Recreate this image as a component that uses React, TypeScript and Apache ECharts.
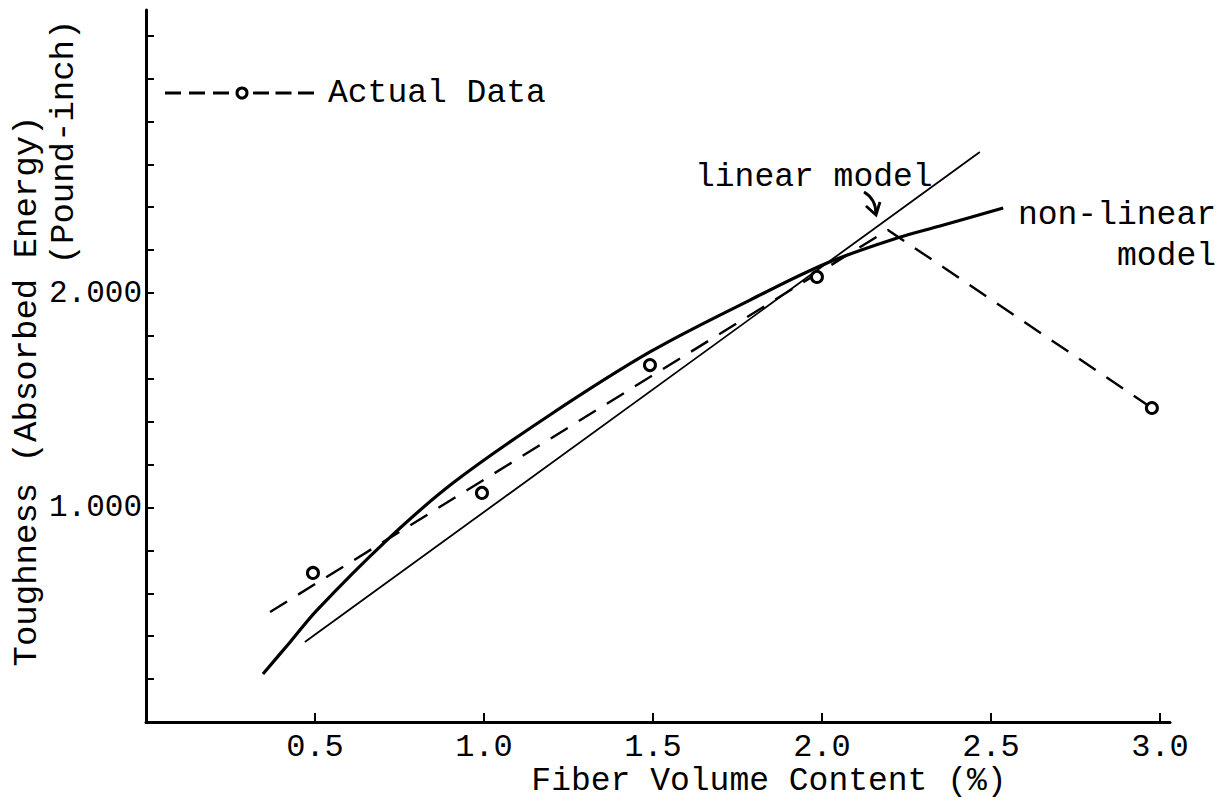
import React, { useEffect, useRef } from "react";
import * as echarts from "echarts";

// Fiber volume content (%) and toughness (pound-inch)
const nonLinearX = [0.346, 0.426, 0.506, 0.713, 0.908, 1.186, 1.491, 1.787, 2.015, 2.222, 2.349, 2.536];
const nonLinearY = [224, 372, 522, 848, 1114, 1422, 1725, 1967, 2140, 2256, 2312, 2396];

const linearX = [0.47, 2.467];
const linearY = [373, 2657];

const actualLineX = [0.367, 2.195, 2.976];
const actualLineY = [513, 2294, 1464];

const actualX = [0.494, 0.994, 1.491, 1.985, 2.976];
const actualY = [695, 1068, 1664, 2075, 1464];

const xTicks = [0, 0.5, 1.0, 1.5, 2.0, 2.5, 3.0];
const yLabelMap: Record<number, string> = { 1000: "1.000", 2000: "2.000" };

const FONT = '"Liberation Mono", "DejaVu Sans Mono", monospace';

export default function App() {
  const ref = useRef<HTMLDivElement>(null);
  useEffect(() => {
    document.body.style.margin = "0";
    const chart = echarts.init(ref.current!, undefined, { renderer: "svg" });
    const zip = (xs: number[], ys: number[]) => xs.map((x, i) => [x, ys[i]]);
    const xPerUnit = 338;
    const yPerUnit = 0.2145;
    const mainLeft = 146;
    const mainBottomPx = 722;
    const xMax = xTicks[xTicks.length - 1];
    const yMax = 3200;
    const mainWidth = xMax * xPerUnit;
    const mainHeight = yMax * yPerUnit;
    const option: any = {
      animation: false,
      backgroundColor: "#ffffff",
      grid: [
        { left: mainLeft, top: mainBottomPx - mainHeight, width: mainWidth, height: mainHeight },
        { left: mainLeft, top: 10, width: 1170 - mainLeft, height: mainBottomPx - 10 },
      ],
      xAxis: [
        {
          type: "value",
          gridIndex: 0,
          min: 0,
          max: xMax,
          interval: 0.5,
          axisLine: { show: false },
          axisTick: { show: true, inside: true, length: 9, lineStyle: { color: "#000", width: 2 } },
          splitLine: { show: false },
          axisLabel: {
            show: true,
            margin: 9,
            fontSize: 32,
            fontFamily: FONT,
            color: "#000",
            formatter: (v: number) => (v === 0 ? "" : v.toFixed(1)),
          },
        },
        {
          type: "value",
          gridIndex: 1,
          min: 0,
          max: 1,
          axisLine: { show: true, onZero: false, lineStyle: { color: "#000", width: 3 } },
          axisTick: { show: false },
          axisLabel: { show: false },
          splitLine: { show: false },
        },
      ],
      yAxis: [
        {
          type: "value",
          gridIndex: 0,
          min: 0,
          max: yMax,
          interval: 200,
          axisLine: { show: false },
          axisTick: { show: true, inside: true, length: 8, lineStyle: { color: "#000", width: 2 } },
          splitLine: { show: false },
          axisLabel: {
            show: true,
            margin: 4,
            fontSize: 31,
            fontFamily: FONT,
            color: "#000",
            formatter: (v: number) => yLabelMap[v] || "",
          },
        },
        {
          type: "value",
          gridIndex: 1,
          min: 0,
          max: 1,
          axisLine: { show: true, onZero: false, lineStyle: { color: "#000", width: 3 } },
          axisTick: { show: false },
          axisLabel: { show: false },
          splitLine: { show: false },
        },
      ],
      series: [
        {
          name: "non-linear model",
          type: "line",
          xAxisIndex: 0,
          yAxisIndex: 0,
          data: zip(nonLinearX, nonLinearY),
          smooth: 0.35,
          showSymbol: false,
          symbol: "none",
          lineStyle: { color: "#000", width: 3.2 },
          z: 3,
        },
        {
          name: "linear model",
          type: "line",
          xAxisIndex: 0,
          yAxisIndex: 0,
          data: zip(linearX, linearY),
          showSymbol: false,
          symbol: "none",
          lineStyle: { color: "#000", width: 1.8 },
          z: 3,
        },
        {
          name: "Actual Data line",
          type: "line",
          xAxisIndex: 0,
          yAxisIndex: 0,
          data: zip(actualLineX, actualLineY),
          showSymbol: false,
          symbol: "none",
          lineStyle: { color: "#000", width: 2.4, type: [20, 13] },
          z: 3,
        },
        {
          name: "Actual Data",
          type: "scatter",
          xAxisIndex: 0,
          yAxisIndex: 0,
          data: zip(actualX, actualY),
          symbol: "circle",
          symbolSize: 11,
          itemStyle: { color: "#fff", borderColor: "#000", borderWidth: 3, opacity: 1 },
          z: 5,
        },
      ],
      graphic: [
        {
          type: "line",
          shape: { x1: 165, y1: 93, x2: 231, y2: 93 },
          style: { stroke: "#000", lineWidth: 2.8, lineDash: [16, 8] },
        },
        {
          type: "circle",
          shape: { cx: 242, cy: 93, r: 5 },
          style: { fill: "#fff", stroke: "#000", lineWidth: 3 },
        },
        {
          type: "line",
          shape: { x1: 253, y1: 93, x2: 314, y2: 93 },
          style: { stroke: "#000", lineWidth: 2.8, lineDash: [16, 6.5] },
        },
        {
          type: "text",
          x: 328,
          y: 93,
          style: { text: "Actual Data", fontSize: 33, fontFamily: FONT, fill: "#000", align: "left", verticalAlign: "middle" },
        },
        {
          type: "text",
          x: 695,
          y: 177,
          style: { text: "linear model", fontSize: 33, fontFamily: FONT, fill: "#000", align: "left", verticalAlign: "middle" },
        },
        {
          type: "bezierCurve",
          shape: { x1: 864, y1: 192, cpx1: 876, cpy1: 199, x2: 876, y2: 214 },
          style: { stroke: "#000", lineWidth: 2.8, fill: "none" },
        },
        {
          type: "polyline",
          shape: { points: [[866, 206], [876, 215], [880, 202]] },
          style: { stroke: "#000", lineWidth: 2.8, fill: "none" },
        },
        {
          type: "text",
          x: 1216,
          y: 215,
          style: { text: "non-linear", fontSize: 33, fontFamily: FONT, fill: "#000", align: "right", verticalAlign: "middle" },
        },
        {
          type: "text",
          x: 1216,
          y: 256,
          style: { text: "model", fontSize: 33, fontFamily: FONT, fill: "#000", align: "right", verticalAlign: "middle" },
        },
        {
          type: "text",
          x: 769,
          y: 781,
          style: { text: "Fiber Volume Content (%)", fontSize: 33, fontFamily: FONT, fill: "#000", align: "center", verticalAlign: "middle" },
        },
        {
          type: "text",
          x: 27,
          y: 391,
          rotation: Math.PI / 2,
          style: { text: "Toughness (Absorbed Energy)", fontSize: 34, fontFamily: FONT, fill: "#000", align: "center", verticalAlign: "middle" },
        },
        {
          type: "text",
          x: 64,
          y: 142,
          rotation: Math.PI / 2,
          style: { text: "(Pound-inch)", fontSize: 34, fontFamily: FONT, fill: "#000", align: "center", verticalAlign: "middle" },
        },
      ],
    };
    chart.setOption(option);
    return () => chart.dispose();
  }, []);
  return (
    <div
      ref={ref}
      style={{ position: "fixed", left: 0, top: 0, width: 1230, height: 809, background: "#fff" }}
    />
  );
}
